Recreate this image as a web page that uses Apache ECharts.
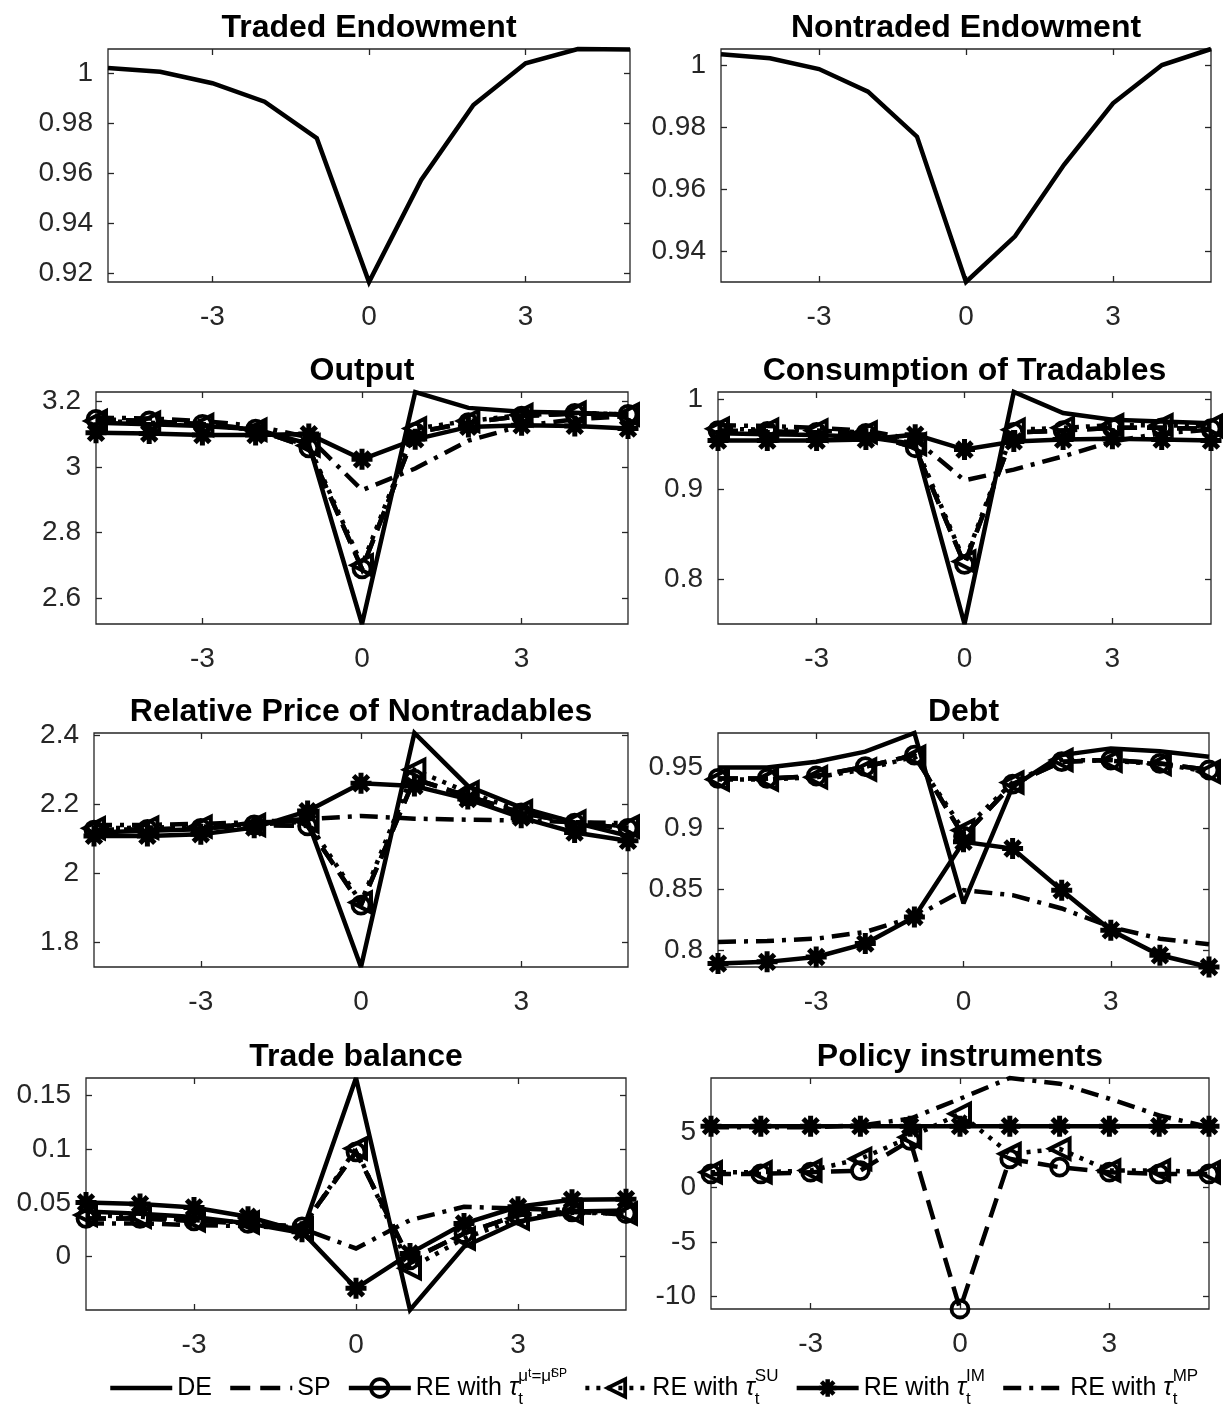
<!DOCTYPE html>
<html>
<head>
<meta charset="utf-8">
<script src="https://cdn.jsdelivr.net/npm/echarts@6/dist/echarts.min.js"></script>
<style>
html, body { margin: 0; padding: 0; background: #fff; }
#main { width: 1225px; height: 1410px; }
</style>
</head>
<body>
<div id="main"></div>
<script>
// periods around the crisis
var periods = [-5, -4, -3, -2, -1, 0, 1, 2, 3, 4, 5];
var xTicks = [-3, 0, 3];

// endowments
var tradedEndow    = [1.0021, 1.0006, 0.9960, 0.9886, 0.9740, 0.9164, 0.9573, 0.9873, 1.0040, 1.0097, 1.0095];
var nontradedEndow = [1.0037, 1.0024, 0.9989, 0.9916, 0.9770, 0.9299, 0.9447, 0.9679, 0.9878, 1.0002, 1.0054];

// output
var outDE = [3.135, 3.130, 3.125, 3.115, 3.070, 2.5205, 3.2285, 3.180, 3.168, 3.165, 3.158];
var outRE = [3.145, 3.140, 3.130, 3.115, 3.058, 2.689, 3.105, 3.135, 3.155, 3.163, 3.160];
var outSU = [3.140, 3.135, 3.128, 3.113, 3.065, 2.700, 3.117, 3.140, 3.158, 3.165, 3.160];
var outIM = [3.104, 3.102, 3.097, 3.097, 3.100, 3.023, 3.084, 3.122, 3.127, 3.125, 3.117];
var outMP = [3.150, 3.148, 3.140, 3.125, 3.090, 2.929, 2.995, 3.080, 3.125, 3.145, 3.155];

// consumption of tradables
var conDE = [0.962, 0.961, 0.960, 0.958, 0.950, 0.7509, 1.0077, 0.9845, 0.977, 0.975, 0.973];
var conRE = [0.965, 0.964, 0.963, 0.962, 0.946, 0.817, 0.963, 0.965, 0.968, 0.968, 0.967];
var conSU = [0.967, 0.966, 0.965, 0.963, 0.950, 0.820, 0.966, 0.968, 0.971, 0.971, 0.970];
var conIM = [0.954, 0.954, 0.954, 0.955, 0.9605, 0.944, 0.953, 0.955, 0.956, 0.955, 0.954];
var conMP = [0.971, 0.970, 0.968, 0.965, 0.955, 0.910, 0.9218, 0.9365, 0.953, 0.962, 0.966];

// relative price of nontradables
var rpDE = [2.118, 2.123, 2.127, 2.147, 2.152, 1.7274, 2.4068, 2.253, 2.190, 2.147, 2.108];
var rpRE = [2.125, 2.127, 2.130, 2.140, 2.137, 1.907, 2.273, 2.224, 2.175, 2.145, 2.130];
var rpSU = [2.130, 2.132, 2.135, 2.140, 2.150, 1.915, 2.300, 2.235, 2.180, 2.150, 2.135];
var rpIM = [2.108, 2.108, 2.113, 2.132, 2.180, 2.261, 2.253, 2.215, 2.161, 2.118, 2.094];
var rpMP = [2.140, 2.140, 2.143, 2.148, 2.157, 2.166, 2.158, 2.155, 2.153, 2.148, 2.145];

// debt
var debtDE = [0.9497, 0.9497, 0.9544, 0.9626, 0.9779, 0.8383, 0.9339, 0.9598, 0.9653, 0.9630, 0.9585];
var debtRE = [0.9407, 0.9407, 0.9427, 0.9503, 0.9598, 0.8934, 0.9360, 0.9544, 0.9558, 0.9530, 0.9476];
var debtSU = [0.9399, 0.9399, 0.9416, 0.9481, 0.9585, 0.8983, 0.9374, 0.9558, 0.9552, 0.9525, 0.9462];
var debtIM = [0.7891, 0.7905, 0.7945, 0.8055, 0.8273, 0.8888, 0.8833, 0.8492, 0.8164, 0.7959, 0.7863];
var debtMP = [0.8068, 0.8076, 0.8095, 0.8150, 0.8273, 0.8492, 0.8451, 0.8342, 0.8191, 0.8095, 0.8049];

// trade balance
var tbDE = [0.042, 0.040, 0.037, 0.031, 0.022, 0.1661, -0.0495, 0.0093, 0.0325, 0.042, 0.043];
var tbRE = [0.0356, 0.0356, 0.0334, 0.0310, 0.0278, 0.0974, -0.0030, 0.0216, 0.0387, 0.0417, 0.0402];
var tbSU = [0.0387, 0.0371, 0.0340, 0.0318, 0.0263, 0.1005, -0.0108, 0.0170, 0.0356, 0.0408, 0.0402];
var tbIM = [0.0504, 0.0489, 0.0458, 0.0371, 0.0232, -0.0294, 0.0031, 0.0309, 0.0464, 0.0530, 0.0535];
var tbMP = [0.0310, 0.0310, 0.0294, 0.0285, 0.0263, 0.0077, 0.0340, 0.0464, 0.0448, 0.0433, 0.0387];

// policy instruments
var polRE = [1.22, 1.22, 1.38, 1.53, 4.29, -11.15, 2.60, 1.84, 1.38, 1.22, 1.22];
var polSU = [1.38, 1.38, 1.53, 2.60, 4.59, 6.74, 3.06, 3.52, 1.53, 1.53, 1.38];
var polIM = [5.6, 5.6, 5.6, 5.6, 5.6, 5.6, 5.6, 5.6, 5.6, 5.6, 5.6];
var polMP = [5.50, 5.50, 5.50, 5.66, 6.28, 8.11, 10.01, 9.49, 8.11, 6.58, 5.51];

// tick labels of the y axes
var tradedTicks    = [0.92, 0.94, 0.96, 0.98, 1];
var nontradedTicks = [0.94, 0.96, 0.98, 1];
var outputTicks    = [2.6, 2.8, 3, 3.2];
var consTicks      = [0.8, 0.9, 1];
var priceTicks     = [1.8, 2, 2.2, 2.4];
var debtTicks      = [0.8, 0.85, 0.9, 0.95];
var tbTicks        = [0, 0.05, 0.1, 0.15];
var policyTicks    = [-10, -5, 0, 5];

var FONT = '"Liberation Sans", Arial, Helvetica, sans-serif';
var AXIS_COLOR = '#262626';

var TRI = 'path://M0,5L10,0L10,10Z';
var STAR = 'path://M5,0L5,10M0,5L10,5M1.46,1.46L8.54,8.54M1.46,8.54L8.54,1.46';

var NAME_RE = 'RE with tau mu = mu SP';
var NAME_SU = 'RE with tau SU';
var NAME_IM = 'RE with tau IM';
var NAME_MP = 'RE with tau MP';

var styleOf = {
    DE: {name: 'DE', dash: 'solid', symbol: 'none'},
    SP: {name: 'SP', dash: [20, 10], symbol: 'none'},
    RE: {name: NAME_RE, dash: [20, 10], symbol: 'circle', size: 17, border: 3.8},
    SU: {name: NAME_SU, dash: [4, 7], symbol: TRI, size: 20, border: 4},
    IM: {name: NAME_IM, dash: 'solid', symbol: STAR, size: 21, border: 5},
    MP: {name: NAME_MP, dash: [18, 8, 4, 8], symbol: 'none'}
};

// box = [left, top, width, height] of each plot area
var panels = [
    {title: 'Traded Endowment', box: [108, 49, 522, 233], ticks: tradedTicks,
        lines: [['DE', tradedEndow]]},
    {title: 'Nontraded Endowment', box: [721, 49, 490, 233], ticks: nontradedTicks,
        lines: [['DE', nontradedEndow]]},
    {title: 'Output', box: [96, 392, 532, 232], ticks: outputTicks,
        lines: [['DE', outDE], ['SP', outRE], ['RE', outRE], ['SU', outSU], ['IM', outIM], ['MP', outMP]]},
    {title: 'Consumption of Tradables', box: [718, 392, 493, 232], ticks: consTicks,
        lines: [['DE', conDE], ['SP', conRE], ['RE', conRE], ['SU', conSU], ['IM', conIM], ['MP', conMP]]},
    {title: 'Relative Price of Nontradables', box: [94, 733, 534, 234], ticks: priceTicks,
        lines: [['DE', rpDE], ['SP', rpRE], ['RE', rpRE], ['SU', rpSU], ['IM', rpIM], ['MP', rpMP]]},
    {title: 'Debt', box: [718, 733, 491, 234], ticks: debtTicks,
        lines: [['DE', debtDE], ['SP', debtRE], ['RE', debtRE], ['SU', debtSU], ['IM', debtIM], ['MP', debtMP]]},
    {title: 'Trade balance', box: [86, 1078, 540, 232], ticks: tbTicks,
        lines: [['DE', tbDE], ['SP', tbRE], ['RE', tbRE], ['SU', tbSU], ['IM', tbIM], ['MP', tbMP]]},
    {title: 'Policy instruments', box: [711, 1078, 498, 231], ticks: policyTicks,
        lines: [['RE', polRE], ['SU', polSU], ['IM', polIM], ['MP', polMP]]}
];

function fmt(v) {
    return String(Math.round(v * 1e6) / 1e6);
}

var grids = [], xAxes = [], yAxes = [], titles = [], series = [];

panels.forEach(function (p, i) {
    var all = [];
    p.lines.forEach(function (l) { all = all.concat(l[1]); });
    var lo = Math.min.apply(null, all);
    var hi = Math.max.apply(null, all);

    grids.push({
        left: p.box[0], top: p.box[1], width: p.box[2], height: p.box[3],
        show: true, borderColor: AXIS_COLOR, borderWidth: 1.3,
        backgroundColor: 'rgba(0,0,0,0)'
    });

    titles.push({
        text: p.title,
        left: p.box[0] + p.box[2] / 2,
        top: p.box[1] - 37,
        textAlign: 'center',
        padding: 0,
        textStyle: {fontFamily: FONT, fontSize: 32, fontWeight: 'bold', color: '#000'}
    });

    // bottom axis with labels, mirrored ticks on top
    [['bottom', true], ['top', false]].forEach(function (a) {
        xAxes.push({
            gridIndex: i, type: 'value', position: a[0], min: -5, max: 5,
            axisLine: {show: false, onZero: false},
            splitLine: {show: false},
            axisTick: {show: true, inside: true, length: 6, customValues: xTicks,
                lineStyle: {color: AXIS_COLOR, width: 1.3}},
            axisLabel: {show: a[1], customValues: xTicks, margin: 21, formatter: fmt,
                fontFamily: FONT, fontSize: 28, color: AXIS_COLOR}
        });
    });

    // left axis with labels, mirrored ticks on the right
    [['left', true], ['right', false]].forEach(function (a) {
        yAxes.push({
            gridIndex: i, type: 'value', position: a[0], min: lo, max: hi,
            axisLine: {show: false, onZero: false},
            splitLine: {show: false},
            axisTick: {show: true, inside: true, length: 6, customValues: p.ticks,
                lineStyle: {color: AXIS_COLOR, width: 1.3}},
            axisLabel: {show: a[1], customValues: p.ticks, margin: 15, formatter: fmt,
                fontFamily: FONT, fontSize: 28, color: AXIS_COLOR}
        });
    });

    p.lines.forEach(function (l) {
        var st = styleOf[l[0]];
        var vals = l[1];
        series.push({
            name: st.name,
            type: 'line',
            xAxisIndex: 2 * i,
            yAxisIndex: 2 * i,
            data: periods.map(function (t, k) { return [t, vals[k]]; }),
            symbol: st.symbol,
            symbolSize: st.size || 0,
            showSymbol: st.symbol !== 'none',
            clip: false,
            silent: true,
            lineStyle: {color: '#000', width: 4.5, type: st.dash, cap: 'butt', join: 'miter', miterLimit: 3},
            itemStyle: {
                color: 'rgba(0,0,0,0)',
                borderColor: st.symbol === 'none' ? 'rgba(0,0,0,0)' : '#000',
                borderWidth: st.border || 0
            },
            emphasis: {disabled: true}
        });
    });
});

var legendText = {
    'DE': '{b|DE}',
    'SP': '{b|SP}'
};
legendText[NAME_RE] = '{b|RE with }{tau|τ}{sub0|t}{sup|μ}{ssub|t}{sup|=μ}{ssub0|t}{ssup|SP}';
legendText[NAME_SU] = '{b|RE with }{tau|τ}{sub0|t}{sup|SU}';
legendText[NAME_IM] = '{b|RE with }{tau|τ}{sub0|t}{sup|IM}';
legendText[NAME_MP] = '{b|RE with }{tau|τ}{sub0|t}{sup|MP}';

var chart = echarts.init(document.getElementById('main'));
chart.setOption({
    animation: false,
    backgroundColor: '#fff',
    title: titles,
    grid: grids,
    xAxis: xAxes,
    yAxis: yAxes,
    series: series,
    legend: {
        data: [
            {name: 'DE'},
            {name: 'SP'},
            {name: NAME_RE, lineStyle: {type: 'solid'}},
            {name: NAME_SU},
            {name: NAME_IM, itemStyle: {borderWidth: 4.5}},
            {name: NAME_MP}
        ],
        left: 103,
        top: 1363,
        itemWidth: 62,
        itemHeight: 22,
        itemGap: 16,
        selectedMode: false,
        lineStyle: {width: 4.5},
        itemStyle: {borderWidth: 3.8},
        formatter: function (name) { return legendText[name]; },
        textStyle: {
            fontFamily: FONT, fontSize: 25, color: '#000',
            rich: {
                b: {fontFamily: FONT, fontSize: 25, lineHeight: 40, verticalAlign: 'middle', color: '#000'},
                tau: {fontFamily: FONT, fontSize: 25, fontStyle: 'italic', lineHeight: 40, verticalAlign: 'middle', color: '#000'},
                sub0: {fontFamily: FONT, fontSize: 17, lineHeight: 16, verticalAlign: 'bottom', width: 0, color: '#000'},
                sup: {fontFamily: FONT, fontSize: 17, lineHeight: 16, verticalAlign: 'top', color: '#000'},
                ssub: {fontFamily: FONT, fontSize: 12, lineHeight: 28, verticalAlign: 'top', color: '#000'},
                ssub0: {fontFamily: FONT, fontSize: 12, lineHeight: 28, verticalAlign: 'top', width: 0, color: '#000'},
                ssup: {fontFamily: FONT, fontSize: 12, lineHeight: 4, verticalAlign: 'top', color: '#000'}
            }
        }
    }
});
</script>
</body>
</html>
